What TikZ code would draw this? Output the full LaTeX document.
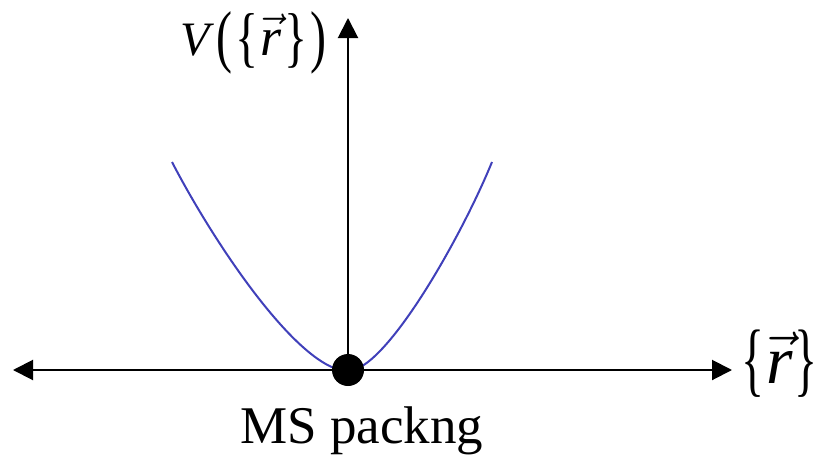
\documentclass[tikz,border=0pt]{standalone}
\usepackage{fix-cm}
\usepackage{graphicx}
\usepackage{fontspec}
\setmainfont{Liberation Serif}
\usetikzlibrary{arrows.meta, positioning}
\definecolor{curveblue}{RGB}{64,64,186}
% a text delimiter stretched upwards and lowered
\newcommand{\tallglyph}[3]{\raisebox{#1}{\scalebox{1}[#2]{#3}}}

\begin{document}
\begin{tikzpicture}[x=1pt, y=-1pt,
  axis/.style={line width=2pt, {Triangle[length=20pt, width=20pt]}-{Triangle[length=20pt, width=20pt]}},
  axisup/.style={line width=2pt, -{Triangle[length=20pt, width=20pt]}},
  well/.style={curveblue, line width=2pt},
  minpt/.style={circle, fill=black, minimum size=32pt, inner sep=0pt},
  lbl/.style={inner sep=0pt}]
  \useasboundingbox (0,0) rectangle (827,455);
  \coordinate (xl) at (13,370);
  \coordinate (xr) at (732,370);
  \coordinate (yt) at (348,18);
  % axes
  \draw[axis] (xl) -- (xr);
  \draw[axisup] (348,370) -- (yt);
  % potential well
  \draw[well] (172,162) .. controls (215,245) and (300,371) .. (348,371)
    .. controls (385,371) and (460,240) .. (492,162);
  \node[minpt] (ms) at (348,370) {};
  % labels
  \node[lbl, anchor=base west] (vlab) at (180,55) {\fontsize{48}{48}\selectfont
    \textit{V\/}\kern2pt\tallglyph{-5pt}{1.44}{(}\kern3pt\tallglyph{-5pt}{1.38}{\{}\kern2pt{\fontsize{54}{54}\selectfont$\vec{\textit{r}}$}\kern3pt\tallglyph{-5pt}{1.38}{\}}\kern3pt\tallglyph{-5pt}{1.44}{)}};
  \node[lbl, anchor=base west] (rlab) at (741,383) {\fontsize{48}{48}\selectfont
    \tallglyph{-3pt}{1.7}{\{}\kern2pt{\fontsize{68}{68}\selectfont$\vec{\textit{r}}$}\kern2pt\tallglyph{-3pt}{1.7}{\}}};
  \node[lbl, anchor=base west] (mslab) at (240,443) {\fontsize{53}{56}\selectfont MS packng};
\end{tikzpicture}
\end{document}
